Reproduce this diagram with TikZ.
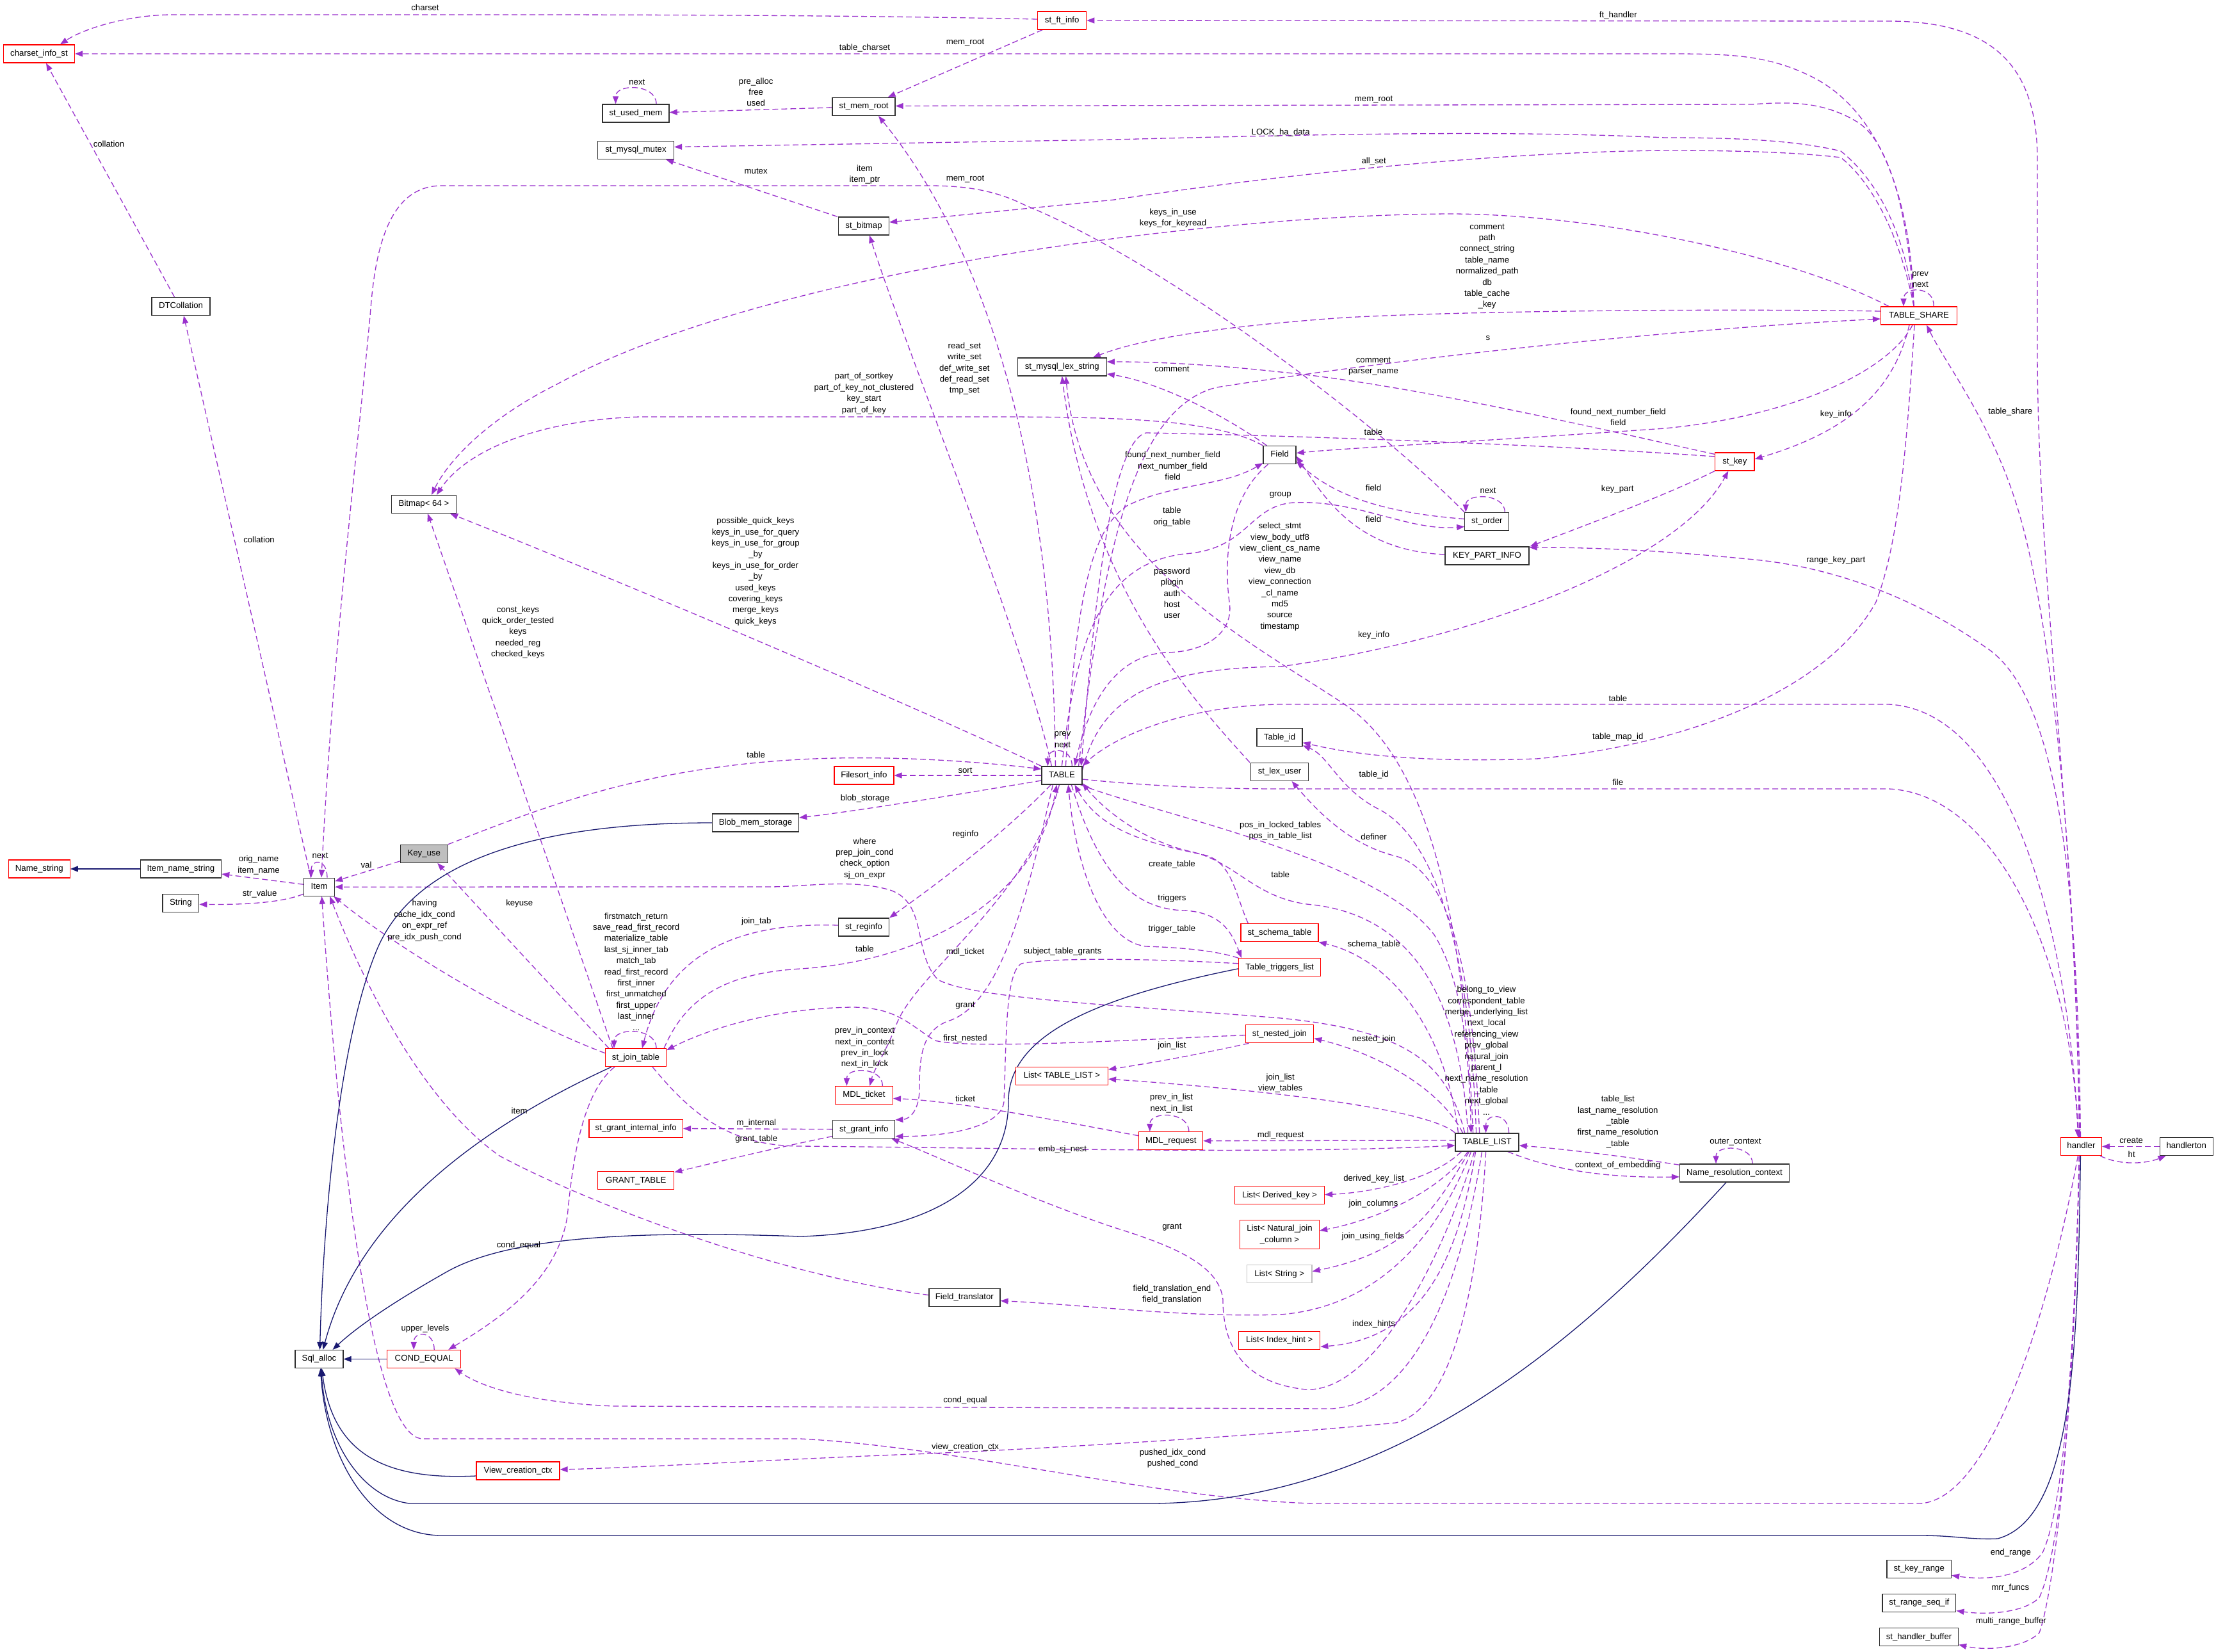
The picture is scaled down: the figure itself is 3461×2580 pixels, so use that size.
\documentclass[tikz,border=0pt]{standalone}
\usepackage{fontspec}
\setmainfont{Liberation Sans}
\usetikzlibrary{arrows.meta,calc}
\pgfdeclarelayer{bgl}
\pgfdeclarelayer{edgel}
\pgfsetlayers{bgl,edgel,main}
\definecolor{depc}{HTML}{9A32CD}
\definecolor{inhc}{HTML}{191970}
\definecolor{gfill}{HTML}{BFBFBF}
\definecolor{bdr}{HTML}{303030}
\newcommand{\lbfont}{\fontsize{13.2pt}{17.4pt}\selectfont}
\begin{document}
\begin{tikzpicture}[x=1pt,y=-1pt,
  nb/.style={draw=bdr, line width=1.3pt, fill=white, font=\lbfont, minimum height=28pt, inner xsep=0pt, inner ysep=0pt, text height=9.5pt, text depth=2.6pt},
  rb/.style={nb, draw=red, line width=1.2pt},
  gb/.style={nb, draw=gfill, line width=1.2pt},
  kb/.style={nb, fill=gfill},
  lbl/.style={font=\lbfont, align=center, inner sep=0pt},
  depl/.style={draw=depc, line width=1.3pt, dash pattern=on 9pt off 5pt, -{Triangle[length=12pt,width=9pt]}},
  inhl/.style={draw=inhc, line width=1.3pt, -{Triangle[length=12pt,width=9pt]}}]
\begin{pgfonlayer}{bgl}
\fill[white] (0,0) rectangle (3461,2580);
\end{pgfonlayer}
\useasboundingbox (0,0) rectangle (3461,2580);
% ---------------- nodes
\node[rb, minimum width=111pt] (charset) at (61,84) {charset\_info\_st};
\node[nb, minimum width=91pt] (dtcoll) at (282.5,478.5) {DTCollation};
\node[nb, minimum width=101pt] (bitmap) at (662,787.5) {Bitmap< 64 >};
\node[rb, minimum width=76pt] (stftinfo) at (1658.7,32) {st\_ft\_info};
\node[nb, minimum width=104pt] (usedmem) at (993,177) {st\_used\_mem};
\node[nb, minimum width=98pt] (memroot) at (1349,166.5) {st\_mem\_root};
\node[nb, minimum width=119pt] (mutex) at (993,234.5) {st\_mysql\_mutex};
\node[nb, minimum width=79pt] (stbitmap) at (1349,353) {st\_bitmap};
\node[nb, minimum width=139pt] (lexstr) at (1658.7,573) {st\_mysql\_lex\_string};
\node[nb, minimum width=51pt] (field) at (1998.6,710.5) {Field};
\node[nb, minimum width=69pt] (order) at (2322.3,814.5) {st\_order};
\node[nb, minimum width=131pt] (kpi) at (2322.5,868) {KEY\_PART\_INFO};
\node[rb, minimum width=119pt] (tshare) at (2997,493) {TABLE\_SHARE};
\node[rb, minimum width=61.5pt] (stkey) at (2709.3,721) {st\_key};
\node[rb, minimum width=96pt] (namestr) at (61.3,1357) {Name\_string};
\node[nb, minimum width=126.5pt] (itemname) at (282.4,1357) {Item\_name\_string};
\node[nb, minimum width=56.6pt] (string) at (282.4,1410.4) {String};
\node[nb, minimum width=48pt] (item) at (498.5,1385.2) {Item};
\node[kb, minimum width=74pt] (keyuse) at (662.2,1333.3) {Key\_use};
\node[nb, minimum width=63pt] (table) at (1658.4,1211) {TABLE};
\node[rb, minimum width=93pt] (filesort) at (1349.4,1211) {Filesort\_info};
\node[nb, minimum width=135pt] (blob) at (1180,1285) {Blob\_mem\_storage};
\node[nb, minimum width=79pt] (reginfo) at (1349,1448) {st\_reginfo};
\node[rb, minimum width=95pt] (jointab) at (993,1651.7) {st\_join\_table};
\node[rb, minimum width=90pt] (mdlticket) at (1349.4,1710.5) {MDL\_ticket};
\node[rb, minimum width=144pt] (listtl) at (1658.5,1680.2) {List< TABLE\_LIST >};
\node[nb, minimum width=75pt] (sqlalloc) at (498.5,2122.5) {Sql\_alloc};
\node[rb, minimum width=115pt] (condeq) at (662.2,2122.5) {COND\_EQUAL};
\node[rb, minimum width=130pt] (viewctx) at (809,2297) {View\_creation\_ctx};
\node[rb, minimum width=146.5pt] (grantint) at (993.2,1762.5) {st\_grant\_internal\_info};
\node[nb, minimum width=97pt] (grantinfo) at (1349.2,1763.6) {st\_grant\_info};
\node[rb, minimum width=119pt] (granttable) at (993.2,1843.7) {GRANT\_TABLE};
\node[nb, minimum width=111pt] (fieldtr) at (1506.4,2026.5) {Field\_translator};
\node[nb, minimum width=71pt] (tableid) at (1998.5,1151.7) {Table\_id};
\node[nb, minimum width=90pt] (lexuser) at (1998.5,1205.3) {st\_lex\_user};
\node[rb, minimum width=121pt] (schema) at (1998.5,1456.7) {st\_schema\_table};
\node[rb, minimum width=127.6pt] (triggers) at (1998.6,1510.8) {Table\_triggers\_list};
\node[rb, minimum width=106.5pt] (nested) at (1998.5,1614.7) {st\_nested\_join};
\node[rb, minimum width=100pt] (mdlreq) at (1828.8,1781.7) {MDL\_request};
\node[nb, minimum width=99pt] (tablelist) at (2322.6,1783.9) {TABLE\_LIST};
\node[rb, minimum width=140pt] (derived) at (1998.5,1866.7) {List< Derived\_key >};
\node[draw=red, line width=1.2pt, fill=white, font=\lbfont, align=center, minimum width=124pt, minimum height=45pt, inner sep=0pt] (natural) at (1998.5,1927.9) {List< Natural\_join\\\_column >};
\node[gb, minimum width=101.5pt] (liststr) at (1998.3,1989.6) {List< String >};
\node[rb, minimum width=127pt] (indexhint) at (1998.3,2093.2) {List< Index\_hint >};
\node[rb, minimum width=64pt] (handler) at (3250.4,1790.5) {handler};
\node[nb, minimum width=83pt] (handlerton) at (3414.7,1790.5) {handlerton};
\node[nb, minimum width=171pt] (nrc) at (2709,1831.9) {Name\_resolution\_context};
\node[nb, minimum width=100.5pt] (keyrange) at (2997.2,2450.3) {st\_key\_range};
\node[nb, minimum width=114.7pt] (rangeseq) at (2997.4,2503.5) {st\_range\_seq\_if};
\node[nb, minimum width=123pt] (hbuffer) at (2997,2556.6) {st\_handler\_buffer};
% ---------------- labels
\node[lbl] (l1) at (664,12) {charset};
\node[lbl] (l2) at (170,225) {collation};
\node[lbl] (l3) at (404.5,842.4) {collation};
\node[lbl] (l4) at (1350.5,74.6) {table\_charset};
\node[lbl] (l5) at (1507.5,67) {mem\_root};
\node[lbl] (l6) at (994.8,128.3) {next};
\node[lbl] (l7) at (1180.7,143.7) {pre\_alloc\\free\\used};
\node[lbl] (l8) at (1180.7,267.6) {mutex};
\node[lbl] (l9) at (1350.5,272.3) {item\\item\_ptr};
\node[lbl] (l10) at (1507.5,279.7) {mem\_root};
\node[lbl] (l11) at (2527.3,23.6) {ft\_handler};
\node[lbl] (l12) at (2145.6,155.2) {mem\_root};
\node[lbl] (l13) at (2000.2,206.8) {LOCK\_ha\_data};
\node[lbl] (l14) at (2145.6,251.7) {all\_set};
\node[lbl] (l15) at (1832,340.3) {keys\_in\_use\\keys\_for\_keyread};
\node[lbl] (l16) at (2322.6,416) {comment\\path\\connect\_string\\table\_name\\normalized\_path\\db\\table\_cache\\\_key};
\node[lbl] (l17) at (2999.2,436.3) {prev\\next};
\node[lbl] (l18) at (2324,527.6) {s};
\node[lbl] (l19) at (1506.4,575.6) {read\_set\\write\_set\\def\_write\_set\\def\_read\_set\\tmp\_set};
\node[lbl] (l20) at (1349.4,614.5) {part\_of\_sortkey\\part\_of\_key\_not\_clustered\\key\_start\\part\_of\_key};
\node[lbl] (l21) at (2145,572.3) {comment\\parser\_name};
\node[lbl] (l22) at (1830.4,576.4) {comment};
\node[lbl] (l23) at (2527.3,651) {found\_next\_number\_field\\field};
\node[lbl] (l24) at (2145,675.1) {table};
\node[lbl] (l25) at (1831.5,727.5) {found\_next\_number\_field\\next\_number\_field\\field};
\node[lbl] (l26) at (2145,761.8) {field};
\node[lbl] (l27) at (2324,766.7) {next};
\node[lbl] (l28) at (2526.2,764.5) {key\_part};
\node[lbl] (l29) at (1999.7,773.3) {group};
\node[lbl] (l30) at (2145,811.2) {field};
\node[lbl] (l31) at (1830.4,807) {table\\orig\_table};
\node[lbl] (l32) at (2867.4,646.6) {key\_info};
\node[lbl] (l33) at (3139.8,642.8) {table\_share};
\node[lbl] (l34) at (2867.4,874.8) {range\_key\_part};
\node[lbl] (l35) at (1999,900.6) {select\_stmt\\view\_body\_utf8\\view\_client\_cs\_name\\view\_name\\view\_db\\view\_connection\\\_cl\_name\\md5\\source\\timestamp};
\node[lbl] (l36) at (1830.4,926.4) {password\\plugin\\auth\\host\\user};
\node[lbl] (l37) at (1180,892.6) {possible\_quick\_keys\\keys\_in\_use\_for\_query\\keys\_in\_use\_for\_group\\\_by\\keys\_in\_use\_for\_order\\\_by\\used\_keys\\covering\_keys\\merge\_keys\\quick\_keys};
\node[lbl] (l38) at (809,987.5) {const\_keys\\quick\_order\_tested\\keys\\needed\_reg\\checked\_keys};
\node[lbl] (l39) at (2145.6,991.6) {key\_info};
\node[lbl] (l40) at (2526.8,1090.3) {table};
\node[lbl] (l41) at (2526.8,1151.2) {table\_map\_id};
\node[lbl] (l42) at (2145.6,1210) {table\_id};
\node[lbl] (l43) at (2526.8,1222) {file};
\node[lbl] (l44) at (1659.5,1155) {prev\\next};
\node[lbl] (l45) at (1180.7,1179.2) {table};
\node[lbl] (l46) at (1507.5,1202.8) {sort};
\node[lbl] (l47) at (1351,1246.7) {blob\_storage};
\node[lbl] (l48) at (1508,1303) {reginfo};
\node[lbl] (l49) at (1350.5,1340.7) {where\\prep\_join\_cond\\check\_option\\sj\_on\_expr};
\node[lbl] (l50) at (1999.7,1297.4) {pos\_in\_locked\_tables\\pos\_in\_table\_list};
\node[lbl] (l51) at (2145.6,1306.4) {definer};
\node[lbl] (l52) at (1830.4,1350.3) {create\_table};
\node[lbl] (l53) at (1999.7,1366.2) {table};
\node[lbl] (l54) at (1830.4,1403.5) {triggers};
\node[lbl] (l55) at (1830.4,1451.2) {trigger\_table};
\node[lbl] (l56) at (2145.6,1475.4) {schema\_table};
\node[lbl] (l57) at (500,1336.6) {next};
\node[lbl] (l58) at (572,1350.3) {val};
\node[lbl] (l59) at (404,1351.1) {orig\_name\\item\_name};
\node[lbl] (l60) at (405.6,1396.4) {str\_value};
\node[lbl] (l61) at (663,1437.5) {having\\cache\_idx\_cond\\on\_expr\_ref\\pre\_idx\_push\_cond};
\node[lbl] (l62) at (811.2,1410.6) {keyuse};
\node[lbl] (l63) at (1181.3,1438.6) {join\_tab};
\node[lbl] (l64) at (993.7,1517.3) {firstmatch\_return\\save\_read\_first\_record\\materialize\_table\\last\_sj\_inner\_tab\\match\_tab\\read\_first\_record\\first\_inner\\first\_unmatched\\first\_upper\\last\_inner\\...};
\node[lbl] (l65) at (1350.5,1482) {table};
\node[lbl] (l66) at (1507.5,1487) {mdl\_ticket};
\node[lbl] (l67) at (1659.5,1486.3) {subject\_table\_grants};
\node[lbl] (l68) at (1507.5,1570.8) {grant};
\node[lbl] (l69) at (1507.5,1622.3) {first\_nested};
\node[lbl] (l70) at (1350.5,1636.3) {prev\_in\_context\\next\_in\_context\\prev\_in\_lock\\next\_in\_lock};
\node[lbl] (l71) at (1507.5,1715.6) {ticket};
\node[lbl] (l72) at (2145.6,1623.5) {nested\_join};
\node[lbl] (l73) at (1830.4,1632.8) {join\_list};
\node[lbl] (l74) at (1999.7,1691.7) {join\_list\\view\_tables};
\node[lbl] (l75) at (1829.6,1723.2) {prev\_in\_list\\next\_in\_list};
\node[lbl] (l76) at (2321.5,1640.5) {belong\_to\_view\\correspondent\_table\\merge\_underlying\_list\\next\_local\\referencing\_view\\prev\_global\\natural\_join\\parent\_l\\next\_name\_resolution\\\_table\\next\_global\\...};
\node[lbl] (l77) at (2526.8,1752.1) {table\_list\\last\_name\_resolution\\\_table\\first\_name\_resolution\\\_table};
\node[lbl] (l78) at (2526.8,1820.4) {context\_of\_embedding};
\node[lbl] (l79) at (2710.4,1783.6) {outer\_context};
\node[lbl] (l80) at (3328.7,1780.9) {create};
\node[lbl] (l81) at (3329.2,1802.8) {ht};
\node[lbl] (l82) at (2000.2,1772.7) {mdl\_request};
\node[lbl] (l83) at (811.2,1734.8) {item};
\node[lbl] (l84) at (1181.3,1754) {m\_internal};
\node[lbl] (l85) at (1181.3,1778.7) {grant\_table};
\node[lbl] (l86) at (1659.5,1794.6) {emb\_sj\_nest};
\node[lbl] (l87) at (2145.6,1840.7) {derived\_key\_list};
\node[lbl] (l88) at (2145,1879.6) {join\_columns};
\node[lbl] (l89) at (1830.4,1916.9) {grant};
\node[lbl] (l90) at (2144.5,1930.6) {join\_using\_fields};
\node[lbl] (l91) at (810,1944.9) {cond\_equal};
\node[lbl] (l92) at (1830.4,2021.6) {field\_translation\_end\\field\_translation};
\node[lbl] (l93) at (2145.6,2067.7) {index\_hints};
\node[lbl] (l94) at (664,2074.9) {upper\_levels};
\node[lbl] (l95) at (1507.5,2186.7) {cond\_equal};
\node[lbl] (l96) at (1507.5,2259.7) {view\_creation\_ctx};
\node[lbl] (l97) at (1831.5,2277.5) {pushed\_idx\_cond\\pushed\_cond};
\node[lbl] (l98) at (3140.3,2424.8) {end\_range};
\node[lbl] (l99) at (3139.8,2479.6) {mrr\_funcs};
\node[lbl] (l100) at (3140.9,2532.3) {multi\_range\_buffer};
% ---------------- edges
\begin{pgfonlayer}{edgel}
\draw[depl] ($(keyuse.south west)+(0,-3)$) -- ($(item.east)+(0,-9)$);
\draw[depl] ($(item.north)+(12.5,0)$) .. controls +(0,-30) and +(0,-30) .. ($(item.north)+(-12.5,0)$);
\draw[inhl] (itemname.west) -- (namestr.east);
\draw[depl] ($(item.west)+(0,-4)$) -- ($(itemname.east)+(0,8)$);
\draw[depl] ($(item.west)+(0,11)$) .. controls (440,1410) and (380,1413) .. ($(string.east)+(0,2)$);
\draw[depl] (keyuse.north east) .. controls (850,1260) and (1000,1200) .. (1250,1186) .. controls (1400,1178) and (1550,1192) .. ($(table.west)+(0,-10)$);
\draw[depl] ($(jointab.north west)+(6,0)$) -- ($(keyuse.south)+(21,0)$);
\draw[depl] ($(jointab.west)+(0,-7)$) .. controls (800,1590) and (620,1480) .. ($(item.south east)+(-2,0)$);
\draw[depl] ($(dtcoll.north)+(-10,0)$) -- ($(charset.south)+(11,0)$);
\draw[depl] ($(item.north)+(-13,0)$) -- ($(dtcoll.south)+(4.5,0)$);
\draw[depl] (order.north west) .. controls (2150,660) and (1820,410) .. (1600,320) .. controls (1550,295) and (1500,290) .. (1450,290) -- (690,290) .. controls (620,290) and (590,360) .. (580,470) .. controls (565,650) and (520,1000) .. ($(item.north)+(3.5,0)$);
\draw[depl] ($(tshare.north west)+(13,0)$) .. controls (2800,400) and (2500,335) .. (2267,334) .. controls (1900,335) and (1200,420) .. (870,600) .. controls (760,655) and (700,720) .. ($(bitmap.north)+(12,0)$);
\draw[depl] (table.north west) .. controls (1400,1090) and (950,900) .. ($(bitmap.south east)+(-10,0)$);
\draw[depl] (field.north west) .. controls (1900,655) and (1750,651) .. (1550,651) -- (1000,651) .. controls (850,655) and (730,700) .. ($(bitmap.north)+(20,0)$);
\draw[depl] ($(jointab.north west)+(12,0)$) -- ($(bitmap.south)+(6,0)$);
\draw[depl] ($(stftinfo.west)+(0,-2)$) .. controls (1400,25) and (1100,23) .. (800,23) -- (270,23) .. controls (200,23) and (130,45) .. ($(charset.north)+(33,0)$);
\draw[depl] ($(stftinfo.south west)+(8,0)$) -- ($(memroot.north east)+(-12,0)$);
\draw[depl] ($(handler.north)+(-3,0)$) .. controls (3243,1300) and (3182,900) .. (3182,550) -- (3182,250) .. controls (3182,110) and (3120,33) .. (2950,33) -- (stftinfo.east);
\draw[depl] ($(tshare.north)+(-8,0)$) .. controls (2985,300) and (2930,170) .. (2830,120) .. controls (2760,85) and (2700,84) .. (2600,84) -- (charset.east);
\draw[depl] ($(tshare.north)+(-8,0)$) .. controls (2980,330) and (2950,220) .. (2900,190) .. controls (2850,160) and (2800,158) .. (2737,163) -- ($(memroot.east)+(0,-1)$);
\draw[depl] ($(tshare.north)+(-8,0)$) .. controls (2975,360) and (2930,280) .. (2875,236) .. controls (2800,218) and (2700,215) .. (2600,215) .. controls (2350,203) and (2050,210) .. (1740,218) -- ($(mutex.east)+(0,-5)$);
\draw[depl] ($(tshare.north)+(-8,0)$) .. controls (2970,380) and (2930,290) .. (2875,246) .. controls (2800,237) and (2700,235) .. (2600,235) .. controls (2300,238) and (1950,280) .. (1740,312) -- ($(stbitmap.east)+(0,-6)$);
\draw[depl] ($(tshare.north)+(23,0)$) .. controls +(2,-32) and +(0,-32) .. ($(tshare.north)+(-24,0)$);
\draw[depl] ($(memroot.west)+(0,1.5)$) -- ($(usedmem.east)+(0,-1.5)$);
\draw[depl] ($(usedmem.north)+(32,0)$) .. controls +(0,-32) and +(0,-32) .. ($(usedmem.north)+(-31.5,0)$);
\draw[depl] ($(stbitmap.north west)+(-1,0)$) -- ($(mutex.south east)+(-13,0)$);
\draw[depl] ($(table.north)+(-10,0)$) .. controls (1645,750) and (1550,400) .. ($(memroot.south)+(23,0)$);
\draw[depl] ($(table.north)+(-16,0)$) .. controls (1600,1000) and (1420,560) .. ($(stbitmap.south)+(9,0)$);
\draw[depl] ($(table.north)+(16,0)$) .. controls +(0,-30) and +(0,-30) .. ($(table.north)+(-22,0)$);
\draw[depl] (table.west) -- (filesort.east);
\draw[depl] ($(table.west)+(0,8)$) .. controls (1500,1240) and (1350,1265) .. ($(blob.east)+(0,-8)$);
\draw[depl] ($(table.south west)+(15,0)$) .. controls (1560,1310) and (1450,1390) .. (reginfo.north east);
\draw[depl] ($(jointab.north east)+(-4,0)$) .. controls (1070,1560) and (1130,1520) .. (1250,1513) .. controls (1450,1500) and (1620,1400) .. ($(table.south)+(-8,0)$);
\draw[depl] ($(reginfo.west)+(0,-3)$) .. controls (1150,1440) and (1040,1490) .. ($(jointab.north)+(10,0)$);
\draw[depl] ($(jointab.north)+(32,0)$) .. controls +(0,-33) and +(0,-33) .. ($(jointab.north)+(-34,0)$);
\draw[depl] ($(table.south)+(-4,0)$) .. controls (1610,1400) and (1430,1520) .. (1400,1600) .. controls (1385,1640) and (1365,1670) .. ($(mdlticket.north)+(9,0)$);
\draw[depl] ($(mdlticket.north)+(29,0)$) .. controls +(0,-30) and +(0,-30) .. ($(mdlticket.north)+(-27,0)$);
\draw[depl] ($(mdlreq.west)+(0,-8)$) .. controls (1650,1750) and (1500,1720) .. ($(mdlticket.east)+(0,5)$);
\draw[depl] ($(mdlreq.north)+(28,0)$) .. controls +(0,-32) and +(0,-32) .. ($(mdlreq.north)+(-33,0)$);
\draw[depl] ($(tablelist.west)+(0,-3)$) -- (mdlreq.east);
\draw[depl] ($(jointab.south east)+(-22,0)$) .. controls (1080,1740) and (1140,1790) .. (1250,1790) .. controls (1600,1793) and (2000,1803) .. ($(tablelist.west)+(0,5)$);
\draw[depl] (tablelist.north west) .. controls (2230,1730) and (1950,1700) .. ($(listtl.east)+(0,5)$);
\draw[depl] ($(nested.south west)+(6,0)$) .. controls (1880,1645) and (1800,1660) .. ($(listtl.east)+(0,-10)$);
\draw[depl] ($(nested.west)+(0,2)$) .. controls (1800,1622) and (1520,1640) .. (1460,1625) .. controls (1420,1600) and (1400,1573) .. (1330,1573) .. controls (1200,1575) and (1100,1610) .. ($(jointab.north east)+(0,3)$);
\draw[depl] ($(tshare.south)+(-15,0)$) .. controls (2960,600) and (2900,670) .. ($(stkey.east)+(0,-4)$);
\draw[depl] ($(handler.north)+(-2,0)$) .. controls (3240,1300) and (3200,950) .. (3150,790) .. controls (3110,660) and (3040,570) .. ($(tshare.south)+(12,0)$);
\draw[depl] ($(tshare.west)+(0,-7)$) .. controls (2700,482) and (2300,485) .. (2100,496) .. controls (1900,510) and (1780,530) .. ($(lexstr.north east)+(-22,0)$);
\draw[depl] ($(table.north east)+(-6,0)$) .. controls (1720,900) and (1760,640) .. (1900,605) .. controls (2200,558) and (2600,515) .. ($(tshare.west)+(0,5)$);
\draw[depl] ($(table.north)+(6,0)$) .. controls (1680,950) and (1700,830) .. (1760,790) .. controls (1830,755) and (1910,760) .. ($(field.south west)+(0,-2)$);
\draw[depl] ($(field.south west)+(8,0)$) .. controls (1915,780) and (1912,880) .. (1920,940) .. controls (1928,990) and (1880,1019) .. (1820,1019) .. controls (1740,1025) and (1700,1100) .. ($(table.north east)+(-12,0)$);
\draw[depl] (table.north) .. controls (1680,1000) and (1720,880) .. (1850,865) .. controls (1950,858) and (1950,790) .. (2020,785) .. controls (2120,780) and (2200,830) .. ($(order.west)+(0,8)$);
\draw[depl] ($(order.west)+(0,-4)$) .. controls (2150,800) and (2080,770) .. ($(field.east)+(0,10)$);
\draw[depl] ($(order.north)+(28,0)$) .. controls +(0,-30) and +(0,-30) .. ($(order.north)+(-33,0)$);
\draw[depl] ($(kpi.west)+(0,-2)$) .. controls (2120,860) and (2070,780) .. ($(field.east)+(0,2)$);
\draw[depl] (stkey.south west) .. controls (2600,775) and (2450,830) .. ($(kpi.north east)+(1,0)$);
\draw[depl] ($(stkey.west)+(0,-8)$) .. controls (2400,693) and (2000,680) .. (1790,676) .. controls (1730,690) and (1705,1000) .. ($(table.north east)+(-2,0)$);
\draw[depl] ($(tshare.south)+(-10,0)$) .. controls (2950,580) and (2800,650) .. (2600,669) .. controls (2300,690) and (2100,700) .. ($(field.east)+(0,-3)$);
\draw[depl] ($(stkey.north west)+(0,3)$) .. controls (2500,670) and (2200,600) .. (2000,581) .. controls (1870,567) and (1790,565) .. ($(lexstr.east)+(0,-8)$);
\draw[depl] ($(field.north west)+(6,0)$) .. controls (1900,640) and (1800,595) .. ($(lexstr.east)+(0,11)$);
\draw[depl] ($(tablelist.north)+(-22,0)$) .. controls (2285,1400) and (2220,1180) .. (2100,1100) .. controls (1950,1000) and (1690,870) .. ($(lexstr.south)+(6,0)$);
\draw[depl] ($(lexuser.north west)+(-1,0)$) .. controls (1870,1100) and (1700,920) .. (lexstr.south);
\draw[depl] ($(table.east)+(0,-8)$) .. controls (1720,1080) and (1820,1043) .. (2000,1041) .. controls (2300,1000) and (2620,880) .. ($(stkey.south)+(-10,0)$);
\draw[depl] ($(handler.north)+(-4,0)$) .. controls (3230,1450) and (3140,1110) .. (2950,1100) -- (2000,1100) .. controls (1850,1102) and (1740,1150) .. (table.north east);
\draw[depl] ($(table.east)+(0,6)$) .. controls (1800,1228) and (1900,1232) .. (2000,1232) -- (2950,1232) .. controls (3120,1240) and (3235,1500) .. ($(handler.north)+(-5,0)$);
\draw[depl] ($(handler.north)+(-1,0)$) .. controls (3245,1350) and (3210,1080) .. (3100,1010) .. controls (3000,940) and (2880,890) .. (2750,875) .. controls (2600,860) and (2500,855) .. ($(kpi.east)+(0,-13)$);
\draw[depl] ($(tshare.south)+(-7,0)$) .. controls (2978,700) and (2965,850) .. (2930,940) .. controls (2850,1085) and (2620,1165) .. (2400,1185) .. controls (2200,1192) and (2100,1175) .. ($(tableid.east)+(0,8)$);
\draw[depl] ($(tablelist.north)+(-17,0)$) .. controls (2295,1450) and (2230,1300) .. (2150,1262) .. controls (2090,1230) and (2075,1180) .. ($(tableid.south east)+(0,-2)$);
\draw[depl] ($(tablelist.north)+(-12,0)$) .. controls (2300,1500) and (2260,1360) .. (2180,1337) .. controls (2110,1320) and (2060,1270) .. ($(lexuser.south)+(19,0)$);
\draw[depl] ($(table.south east)+(-3,0)$) .. controls (1800,1270) and (2150,1340) .. (2240,1460) .. controls (2290,1540) and (2295,1680) .. ($(tablelist.north)+(-25,0)$);
\draw[depl] ($(tablelist.north)+(-30,0)$) .. controls (2280,1550) and (2200,1430) .. (2050,1413) .. controls (1960,1405) and (1930,1345) .. (1860,1330) .. controls (1780,1312) and (1720,1260) .. ($(table.east)+(0,12)$);
\draw[depl] ($(schema.north west)+(12,0)$) .. controls (1930,1400) and (1925,1345) .. (1880,1335) .. controls (1800,1318) and (1720,1300) .. ($(table.south)+(20,0)$);
\draw[depl] ($(table.south)+(15,0)$) .. controls (1720,1380) and (1780,1420) .. (1850,1422) .. controls (1910,1425) and (1925,1460) .. ($(triggers.north west)+(5,0)$);
\draw[depl] (triggers.north west) .. controls (1900,1485) and (1850,1480) .. (1790,1478) .. controls (1720,1470) and (1680,1350) .. ($(table.south)+(10,0)$);
\draw[depl] ($(triggers.west)+(0,-6)$) .. controls (1800,1497) and (1640,1495) .. (1595,1505) .. controls (1570,1520) and (1572,1620) .. (1568,1720) .. controls (1565,1760) and (1480,1775) .. ($(grantinfo.east)+(0,11)$);
\draw[depl] ($(table.south)+(-14,0)$) .. controls (1600,1420) and (1560,1570) .. (1480,1595) .. controls (1440,1610) and (1436,1650) .. (1436,1700) .. controls (1436,1735) and (1420,1748) .. (grantinfo.north east);
\draw[depl] ($(tablelist.south)+(-20,0)$) .. controls (2260,1950) and (2150,2175) .. (2040,2170) .. controls (1940,2160) and (1910,2100) .. (1910,2030) .. controls (1905,1975) and (1830,1945) .. (1740,1917) .. controls (1600,1870) and (1450,1800) .. ($(grantinfo.south east)+(-6,0)$);
\draw[depl] (grantinfo.west) -- (grantint.east);
\draw[depl] ($(grantinfo.west)+(0,11)$) .. controls (1200,1795) and (1120,1815) .. ($(granttable.east)+(0,-13)$);
\draw[depl] ($(tablelist.north)+(-35,0)$) .. controls (2260,1660) and (2200,1610) .. (2000,1590) .. controls (1750,1570) and (1520,1560) .. (1465,1530) .. controls (1425,1490) and (1450,1410) .. (1390,1390) .. controls (1330,1372) and (1260,1385) .. (1200,1385) -- (item.east);
\draw[depl] ($(tablelist.south)+(-25,0)$) .. controls (2250,1920) and (2160,2040) .. (2000,2053) .. controls (1850,2058) and (1700,2038) .. ($(fieldtr.east)+(0,5)$);
\draw[depl] ($(fieldtr.west)+(0,-4)$) .. controls (1200,1990) and (900,1870) .. (780,1805) .. controls (660,1720) and (570,1540) .. ($(item.south east)+(-8,0)$);
\draw[depl] ($(tablelist.south west)+(10,0)$) .. controls (2240,1840) and (2150,1862) .. ($(derived.east)+(0,-1)$);
\draw[depl] ($(tablelist.south)+(-30,0)$) .. controls (2250,1860) and (2150,1905) .. ($(natural.east)+(0,-6)$);
\draw[depl] ($(tablelist.south)+(-28,0)$) .. controls (2240,1890) and (2200,1955) .. ($(liststr.east)+(0,-4)$);
\draw[depl] ($(tablelist.south)+(-18,0)$) .. controls (2280,1950) and (2230,2090) .. ($(indexhint.east)+(0,10)$);
\draw[depl] ($(tablelist.north west)+(12,0)$) .. controls (2250,1700) and (2150,1645) .. ($(nested.east)+(0,7)$);
\draw[depl] ($(tablelist.north west)+(5,0)$) .. controls (2260,1620) and (2180,1500) .. (schema.south east);
\draw[depl] ($(tablelist.north)+(34,0)$) .. controls +(0,-32) and +(0,-32) .. ($(tablelist.north)+(-2,0)$);
\draw[depl] ($(nrc.north west)+(0,2)$) .. controls (2550,1808) and (2450,1795) .. ($(tablelist.east)+(0,5)$);
\draw[depl] ($(tablelist.south east)+(-18,0)$) .. controls (2420,1825) and (2500,1840) .. ($(nrc.west)+(0,6)$);
\draw[depl] ($(nrc.north)+(28,0)$) .. controls +(0,-30) and +(0,-30) .. ($(nrc.north)+(-29,0)$);
\draw[depl] ($(handler.south east)+(-3,0)$) .. controls (3310,1820) and (3350,1818) .. ($(handlerton.south west)+(10,0)$);
\draw[depl] (handlerton.west) -- (handler.east);
\draw[depl] ($(handler.south)+(-3,0)$) .. controls (3240,2100) and (3225,2350) .. (3190,2425) .. controls (3160,2465) and (3100,2468) .. ($(keyrange.east)+(0,10)$);
\draw[depl] ($(handler.south)+(-3,0)$) .. controls (3240,2150) and (3220,2420) .. (3185,2495) .. controls (3160,2520) and (3100,2522) .. ($(rangeseq.east)+(0,12)$);
\draw[depl] ($(handler.south)+(-3,0)$) .. controls (3240,2200) and (3210,2480) .. (3185,2550) .. controls (3160,2575) and (3100,2578) .. ($(hbuffer.east)+(0,12)$);
\draw[depl] ($(handler.south)+(-5,0)$) .. controls (3200,2050) and (3110,2340) .. (3000,2348) -- (2050,2348) .. controls (1800,2340) and (1500,2260) .. (1250,2247) -- (660,2247) .. controls (580,2245) and (530,1800) .. ($(item.south)+(4,0)$);
\draw[depl] ($(tablelist.south)+(-8,0)$) .. controls (2290,1950) and (2230,2190) .. (2080,2200) -- (960,2196) .. controls (850,2192) and (760,2172) .. ($(condeq.south east)+(-10,0)$);
\draw[depl] ($(tablelist.south)+(-2,0)$) .. controls (2310,2000) and (2270,2200) .. (2180,2222) .. controls (2000,2240) and (1600,2265) .. (1400,2272) .. controls (1200,2280) and (1000,2292) .. ($(viewctx.east)+(0,-2)$);
\draw[depl] ($(jointab.south west)+(15,0)$) .. controls (905,1710) and (893,1830) .. (886,1900) .. controls (870,2000) and (780,2060) .. ($(condeq.north east)+(-20,0)$);
\draw[depl] ($(condeq.north)+(16,0)$) .. controls +(0,-30) and +(0,-30) .. ($(condeq.north)+(-16,0)$);
\draw[inhl] (condeq.west) -- (sqlalloc.east);
\draw[inhl] (blob.west) .. controls (900,1285) and (660,1320) .. (590,1480) .. controls (530,1620) and (505,1900) .. ($(sqlalloc.north)+(1,0)$);
\draw[inhl] ($(jointab.south west)+(10,0)$) .. controls (750,1760) and (560,1900) .. ($(sqlalloc.north)+(6,0)$);
\draw[inhl] ($(triggers.west)+(0,2)$) .. controls (1700,1560) and (1575,1620) .. (1575,1720) .. controls (1575,1850) and (1450,1925) .. (1250,1931) .. controls (1000,1922) and (800,1930) .. (700,1985) .. controls (620,2030) and (560,2070) .. ($(sqlalloc.north east)+(-17,0)$);
\draw[inhl] ($(viewctx.west)+(0,8)$) .. controls (600,2312) and (520,2270) .. ($(sqlalloc.south)+(4,0)$);
\draw[inhl] ($(nrc.south)+(-13,0)$) .. controls (2500,2060) and (2200,2345) .. (1800,2348) -- (640,2348) .. controls (570,2340) and (510,2260) .. ($(sqlalloc.south)+(3,0)$);
\draw[inhl] ($(handler.south)+(-1,0)$) .. controls (3245,2100) and (3240,2370) .. (3120,2403) .. controls (3080,2405) and (3050,2398) .. (3000,2398) -- (690,2398) .. controls (580,2398) and (510,2280) .. ($(sqlalloc.south)+(2,0)$);
\end{pgfonlayer}
\end{tikzpicture}
\end{document}
